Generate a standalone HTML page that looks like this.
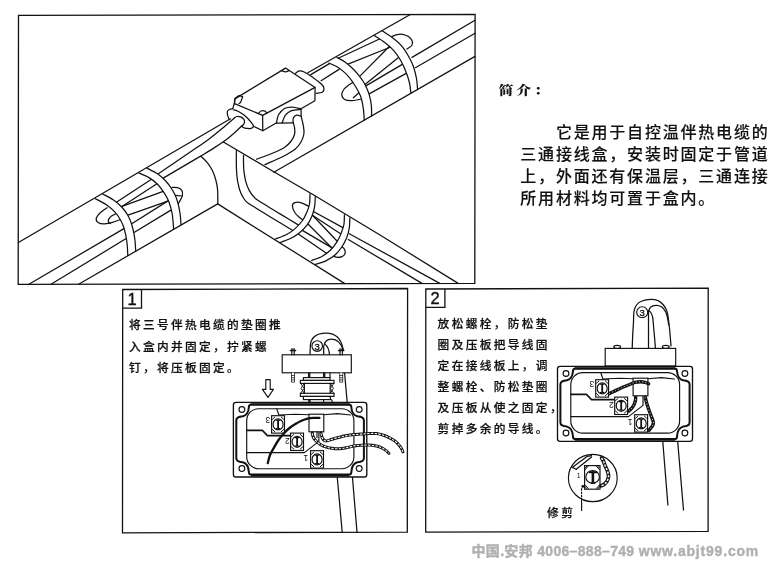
<!DOCTYPE html>
<html lang="zh-CN"><head><meta charset="utf-8"><title>三通接线盒安装说明</title>
<style>
html,body{margin:0;padding:0;background:#fff;}
body{width:779px;height:576px;overflow:hidden;position:relative;filter:grayscale(1);font-family:"Liberation Sans","Noto Sans CJK SC",sans-serif;color:#111;}
svg{position:absolute;left:0;top:0;}
svg path,svg line{fill:none;stroke:#111;stroke-width:1.25;stroke-linecap:round;stroke-linejoin:round;}
svg .k{fill:none;stroke:#111;stroke-width:1.15;}
svg rect.k[fill],svg circle.k[fill],svg ellipse.k[fill],svg path.k[fill]{fill:#fff;}
svg .f{fill:none;stroke:#111;stroke-width:1.3;stroke-linejoin:miter;stroke-linecap:butt;}
svg .g{fill:none;stroke:#111;stroke-width:2;}
svg .g2{fill:none;stroke:#111;stroke-width:1.8;stroke-linecap:butt;}
svg .t{stroke:#111;stroke-width:1.6;stroke-linecap:butt;}
svg .t2{stroke:#111;stroke-width:1.8;stroke-linecap:butt;}
svg .h{stroke:#111;stroke-width:1;}
svg .h2{stroke:#222;stroke-width:.8;fill:#fff;}
svg .s{stroke:#111;stroke-width:1.2;}
svg .w{stroke:#111;stroke-width:2.3;}
svg .w3{stroke:#111;stroke-width:2.2;}
svg .tw_o{stroke:#111;stroke-width:3;}
svg .tw_i{stroke:#fff;stroke-width:1.1;stroke-dasharray:2.4 1.3;stroke-linecap:butt;}
svg text{font-family:"Liberation Sans","Noto Sans CJK SC",sans-serif;fill:#111;}
svg .c3{font-size:9.5px;text-anchor:middle;stroke:#111;stroke-width:.35;}
svg .tn{font-size:8.5px;text-anchor:middle;}
svg .tn2{font-size:7px;text-anchor:middle;}
.tx{position:absolute;white-space:nowrap;margin:0;}
.num{font-size:16.5px;line-height:19px;width:19px;text-align:center;font-weight:400;-webkit-text-stroke:.4px #111;}
.p{font-size:11.7px;line-height:21.4px;letter-spacing:2.35px;font-weight:500;-webkit-text-stroke:.22px #111;}
.intro{font-size:16px;line-height:22.2px;letter-spacing:1.8px;font-weight:500;-webkit-text-stroke:.12px #111;}
svg .ttl{font-family:"Liberation Serif","Noto Serif CJK SC",serif;font-size:15px;font-weight:900;letter-spacing:2.7px;}
.wm{font-size:14px;font-weight:700;color:#b0b0b0;letter-spacing:.32px;-webkit-text-stroke:.4px #b0b0b0;}
</style></head><body>
<svg width="779" height="576" viewBox="0 0 779 576">
<path d="M18.5,15.4 L475.1,14.3 L474.8,283.3 L18.2,284.35 Z" class="f"/>
<g id="tee">
<path d="M200.8,156.2 C201.9,157.3 205.6,160.4 207.5,162.8 C209.4,165.2 211,167.7 212.4,170.6 C213.8,173.5 214.9,176.8 215.8,180 C216.7,183.2 217.3,186 217.6,190 C217.9,194 217.8,201.6 217.8,203.9"/>
<path d="M107.1,207.8 C106,208.6 102.3,210.7 100.5,212.5 C98.7,214.3 96.5,216.9 96.2,218.6 C95.9,220.3 97.1,221.9 98.5,222.8 C99.9,223.7 102.2,224 104.5,223.9 C106.8,223.8 109.9,223.1 112.5,222.4 C115.1,221.7 119,220 120.3,219.5"/>
<path d="M116.7,213.3 C115.8,213.8 112.8,215 111.5,216 C110.2,217 109.1,218.4 108.6,219.4 C108.1,220.4 108.3,221.5 108.6,222.2 C108.9,222.9 109.9,223.4 110.2,223.6"/>
<path d="M172,187.3 C172.9,187.4 175.9,187.1 177.5,187.6 C179.1,188.1 181,189 181.8,190.3 C182.6,191.6 182.7,193.8 182.4,195.5 C182.1,197.2 180.9,199.1 180.2,200.4 C179.5,201.7 178.7,202.9 178.4,203.4"/>
<path d="M175,195.3 L182.4,196"/>
<path d="M352.9,82.5 C352,83.1 349.1,84.8 347.5,86 C345.9,87.2 344.3,88.5 343.4,90 C342.4,91.5 341.6,93.7 341.8,95.3 C342,96.9 342.9,98.6 344.6,99.5 C346.3,100.4 349.2,100.7 352.1,100.6 C355,100.5 360.4,99.3 362,99"/>
<path d="M353.3,97.8 L359.8,92"/>
<path d="M391.6,36.6 C392.5,36.3 395.2,35 397,34.6 C398.8,34.2 400.6,34 402.5,34.3 C404.4,34.6 406.9,35.5 408.5,36.6 C410.1,37.7 411.6,39.5 412.2,41 C412.8,42.5 412.7,44.2 411.8,45.5 C410.9,46.8 407.8,48.4 407,49"/>
<path d="M309.2,206.6 C307.9,206 303.9,203.5 301.5,202.8 C299.1,202.1 296.3,202.1 294.8,202.6 C293.3,203.1 292.4,204.2 292.4,205.8 C292.4,207.5 293.7,210.6 294.8,212.5 C295.9,214.4 297.6,215.7 299,217 C300.4,218.3 302.7,219.8 303.4,220.4"/>
<path d="M341.8,246.6 C342.3,247.1 344.1,248.3 344.6,249.5 C345.1,250.7 345.4,252.4 345,253.6 C344.6,254.8 343.3,256 342,256.6 C340.7,257.2 338.6,257.4 337.3,257.4 C336,257.4 334.6,256.6 334,256.4"/>
<path d="M28.9,284.3 L125.2,227.9"/>
<path d="M51,284.3 L127.4,237.8"/>
<path d="M114.1,203.8 L151.5,179.3"/>
<path d="M119.6,208 L160,181.7"/>
<path d="M119.2,207.3 L165.9,190.3"/>
<path d="M125.9,215.8 L170.7,200.1"/>
<path d="M129.8,225 L170.4,199.4"/>
<path d="M132.8,233.2 L173.4,208.6"/>
<path d="M157.5,174.2 C160.6,172.1 169.9,165.9 176,161.7 C182.1,157.5 189,152.8 194.3,149.2 C199.6,145.6 203.3,143.4 207.8,140 C212.3,136.6 217.1,132.7 221.5,129 C225.9,125.3 232.2,119.8 234.4,118"/>
<path d="M162.8,178.4 L200.2,156.4 C202.3,155.1 208.7,151.3 213,148.6 C217.3,145.9 222.3,142.6 225.8,140 C229.3,137.4 231.4,135.5 234,133.2 C236.6,130.9 240.2,127.4 241.4,126.2"/>
<path d="M310.8,74.6 L329.4,63.6"/>
<path d="M321.1,80.7 L339,69.4"/>
<path d="M335,59.7 L380,38.8"/>
<path d="M346.8,64.6 L390.7,47"/>
<path d="M359.2,76.9 L390,45.8"/>
<path d="M364.3,85.1 L401.9,54.7"/>
<path d="M364.6,86.6 L406.1,62.1"/>
<path d="M367.4,94.9 L409.3,71.6"/>
<path d="M412,57.4 L475,20.2"/>
<path d="M415.4,67.7 L475,33.3"/>
<path d="M293,122 C293.3,123 294.4,125.9 294.6,128 C294.9,130.1 295.1,132.2 294.5,134.5 C293.9,136.8 292.5,139.3 290.8,141.5 C289.1,143.7 287.4,145.6 284.4,147.5 C281.4,149.4 277.6,151.1 273,153 C268.4,154.9 259.3,158.2 256.6,159.2"/>
<path d="M301.1,116.2 C301.5,117.8 302.9,123 303.4,126 C303.9,129 304.3,131.3 303.9,134 C303.5,136.7 302.4,139.5 301,142 C299.6,144.5 298.3,146.6 295.3,149 C292.3,151.4 288.1,153.9 283,156.5 C277.9,159.1 267.9,163.2 264.9,164.6"/>
<path d="M236.4,150.5 C236.4,152.1 236.3,156.8 236.3,160 C236.3,163.2 236.3,166.3 236.5,170 C236.7,173.7 237,178.2 237.8,182.1 C238.5,185.9 239.4,189.8 240.8,193.1 C242.2,196.3 243.8,199.2 246.2,201.6 C248.7,204 251.4,205.2 255.4,207.7 C259.4,210.2 263.6,212.8 270,216.7 C276.4,220.6 290,228.9 294,231.3"/>
<path d="M243.5,155.3 C243.5,156.4 243.4,159.6 243.5,162 C243.6,164.4 243.5,166.8 243.8,170 C244.2,173.2 244.7,177.5 245.6,180.9 C246.5,184.3 247.7,187.7 249.3,190.6 C250.9,193.5 253,196.3 255.4,198.5 C257.8,200.7 259.8,201.4 263.9,204 C268,206.6 274.1,210.3 280,213.9 C285.9,217.5 295.8,223.5 299,225.4"/>
<path d="M311.1,210.3 L345.2,228.9"/>
<path d="M310.1,213.8 L342.8,235.2"/>
<path d="M310.6,213.2 L338.4,242.5"/>
<path d="M306.2,222.3 L333.7,249.8"/>
<path d="M300.2,229.1 L334.2,249.1"/>
<path d="M296.1,232.5 L326.8,253.5"/>
<path d="M349.3,233.7 L439.8,283.4"/>
<path d="M348.3,239.5 L422,283.4"/>
<path d="M95.3,198.7 C97.1,199.7 102.8,202.3 106,204.5 C109.2,206.7 112.1,209.1 114.5,211.7 C116.9,214.2 118.8,217 120.4,219.8 C122,222.6 123.1,224.9 124.2,228.6 C125.3,232.3 126.3,237.5 126.9,242 C127.5,246.5 127.7,253.2 127.8,255.4 L135.7,250.8 C135.5,248.7 135.4,242.5 134.7,238 C134,233.5 132.8,227.8 131.6,224 C130.4,220.2 129.4,218 127.8,215.2 C126.2,212.4 124.3,209.7 121.9,207.2 C119.5,204.7 116.7,202.2 113.5,200 C110.3,197.8 104.5,195 102.7,194 Z" style="fill:#fff;stroke:none"/>
<path d="M138.2,172.8 C140,173.6 145.8,175.7 149,177.6 C152.2,179.5 154.8,181.5 157.3,184 C159.8,186.5 162.1,189.7 164,192.6 C165.9,195.5 167.4,197.9 168.8,201.5 C170.2,205.1 171.4,209.4 172.2,214 C173,218.6 173.4,226.3 173.6,228.8 L181,224.7 C180.8,222.6 180.6,216.4 179.8,212 C179.1,207.6 177.8,202.2 176.5,198.4 C175.2,194.6 173.6,191.9 171.8,189 C170,186.1 167.9,183.2 165.5,180.7 C163.1,178.2 160.6,175.9 157.5,173.8 C154.4,171.7 148.8,169.1 147,168.1 Z" style="fill:#fff;stroke:none"/>
<path d="M329,63.1 C330.3,63.7 334.6,65.4 337,66.8 C339.4,68.2 341.5,69.8 343.6,71.6 C345.7,73.4 347.8,75.6 349.6,77.8 C351.4,80 353.1,82.6 354.6,85 C356.1,87.4 357.5,89.8 358.6,92 C359.7,94.2 360.5,95.6 361.3,98.4 C362.1,101.2 362.9,105.4 363.4,109 C363.9,112.6 364.1,118.3 364.3,120.2 L371.6,116 C371.6,114.2 371.7,108.5 371.3,105 C370.9,101.5 370,97.5 369.2,94.7 C368.4,91.9 367.6,90.2 366.6,88 C365.6,85.8 364.5,83.6 363.1,81.3 C361.7,79 359.8,76.5 358,74.3 C356.2,72.1 354.3,70 352.1,68 C349.9,66 347.5,63.8 345,62 C342.5,60.2 338.2,58.2 336.9,57.5 Z" style="fill:#fff;stroke:none"/>
<path d="M374.2,35.5 C375.9,36.6 381.2,39.8 384.5,42.3 C387.8,44.8 391,47.5 393.8,50.6 C396.5,53.7 398.9,57.4 401,61 C403.1,64.7 404.8,68.8 406.2,72.5 C407.7,76.2 408.7,79.5 409.5,83 C410.3,86.5 410.7,91.6 410.9,93.3 L417.6,89.5 C417.4,87.6 417.1,81.9 416.4,78 C415.7,74.1 414.6,69.9 413.3,66.2 C412,62.6 410.3,59.4 408.4,56 C406.4,52.6 404.2,48.9 401.6,45.9 C399,42.9 395.8,40.3 392.5,37.8 C389.2,35.3 383.8,31.9 382,30.7 Z" style="fill:#fff;stroke:none"/>
<path d="M310,194 C309.9,195.7 310,201 309.5,204 C309,207 308.1,209.2 306.9,212 C305.7,214.8 304.6,217.6 302.5,220.5 C300.4,223.4 296.8,227.2 294,229.6 C291.2,232 288.6,233.4 285.5,235 C282.4,236.6 277.1,238.3 275.4,239 L280,242.4 C281.7,241.8 286.9,240.3 290,238.8 C293.1,237.3 295.8,235.8 298.6,233.6 C301.4,231.3 304.6,228.2 306.8,225.3 C309,222.4 310.7,219 312,215.9 C313.3,212.8 314.1,209.8 314.6,206.6 C315.2,203.4 315.2,198.3 315.3,196.6 Z" style="fill:#fff;stroke:none"/>
<path d="M344.4,214.8 C344.3,216.3 344.5,220.9 344,224 C343.5,227.1 342.4,230.1 341.2,233.1 C340.1,236.1 338.6,239.3 336.8,242.2 C335,245.1 332.8,247.9 330.3,250.3 C327.8,252.7 324.9,254.8 321.8,256.5 C318.7,258.2 313.3,259.8 311.6,260.5 L315.5,264.4 C317.3,263.8 323.1,262.2 326.3,260.6 C329.6,259 332.4,257.3 335,255 C337.6,252.7 339.9,249.9 341.8,247 C343.8,244.1 345.4,241 346.7,237.8 C347.9,234.6 348.8,231.3 349.3,228 C349.8,224.7 349.7,219.7 349.8,218 Z" style="fill:#fff;stroke:none"/>
<path d="M18.4,242.5 L230.5,118.8"/>
<path d="M307.8,72.8 L410.3,14.5"/>
<path d="M78.6,284.2 L217.7,203.9"/>
<path d="M273.8,172.3 L475,56.4"/>
<path d="M223.4,142 L271.2,170.2 L315,195.8 L380,235 L458.2,283.4"/>
<path d="M217.7,203.9 L344.8,283.6"/>
<path d="M95.3,198.7 C97.1,199.7 102.8,202.3 106,204.5 C109.2,206.7 112.1,209.1 114.5,211.7 C116.9,214.2 118.8,217 120.4,219.8 C122,222.6 123.1,224.9 124.2,228.6 C125.3,232.3 126.3,237.5 126.9,242 C127.5,246.5 127.7,253.2 127.8,255.4"/>
<path d="M102.7,194 C104.5,195 110.3,197.8 113.5,200 C116.7,202.2 119.5,204.7 121.9,207.2 C124.3,209.7 126.2,212.4 127.8,215.2 C129.4,218 130.4,220.2 131.6,224 C132.8,227.8 134,233.5 134.7,238 C135.4,242.5 135.5,248.7 135.7,250.8"/>
<path d="M138.2,172.8 C140,173.6 145.8,175.7 149,177.6 C152.2,179.5 154.8,181.5 157.3,184 C159.8,186.5 162.1,189.7 164,192.6 C165.9,195.5 167.4,197.9 168.8,201.5 C170.2,205.1 171.4,209.4 172.2,214 C173,218.6 173.4,226.3 173.6,228.8"/>
<path d="M147,168.1 C148.8,169.1 154.4,171.7 157.5,173.8 C160.6,175.9 163.1,178.2 165.5,180.7 C167.9,183.2 170,186.1 171.8,189 C173.6,191.9 175.2,194.6 176.5,198.4 C177.8,202.2 179.1,207.6 179.8,212 C180.6,216.4 180.8,222.6 181,224.7"/>
<path d="M329,63.1 C330.3,63.7 334.6,65.4 337,66.8 C339.4,68.2 341.5,69.8 343.6,71.6 C345.7,73.4 347.8,75.6 349.6,77.8 C351.4,80 353.1,82.6 354.6,85 C356.1,87.4 357.5,89.8 358.6,92 C359.7,94.2 360.5,95.6 361.3,98.4 C362.1,101.2 362.9,105.4 363.4,109 C363.9,112.6 364.1,118.3 364.3,120.2"/>
<path d="M336.9,57.5 C338.2,58.2 342.5,60.2 345,62 C347.5,63.8 349.9,66 352.1,68 C354.3,70 356.2,72.1 358,74.3 C359.8,76.5 361.7,79 363.1,81.3 C364.5,83.6 365.6,85.8 366.6,88 C367.6,90.2 368.4,91.9 369.2,94.7 C370,97.5 370.9,101.5 371.3,105 C371.7,108.5 371.6,114.2 371.6,116"/>
<path d="M374.2,35.5 C375.9,36.6 381.2,39.8 384.5,42.3 C387.8,44.8 391,47.5 393.8,50.6 C396.5,53.7 398.9,57.4 401,61 C403.1,64.7 404.8,68.8 406.2,72.5 C407.7,76.2 408.7,79.5 409.5,83 C410.3,86.5 410.7,91.6 410.9,93.3"/>
<path d="M382,30.7 C383.8,31.9 389.2,35.3 392.5,37.8 C395.8,40.3 399,42.9 401.6,45.9 C404.2,48.9 406.4,52.6 408.4,56 C410.3,59.4 412,62.6 413.3,66.2 C414.6,69.9 415.7,74.1 416.4,78 C417.1,81.9 417.4,87.6 417.6,89.5"/>
<path d="M310,194 C309.9,195.7 310,201 309.5,204 C309,207 308.1,209.2 306.9,212 C305.7,214.8 304.6,217.6 302.5,220.5 C300.4,223.4 296.8,227.2 294,229.6 C291.2,232 288.6,233.4 285.5,235 C282.4,236.6 277.1,238.3 275.4,239"/>
<path d="M315.3,196.6 C315.2,198.3 315.2,203.4 314.6,206.6 C314.1,209.8 313.3,212.8 312,215.9 C310.7,219 309,222.4 306.8,225.3 C304.6,228.2 301.4,231.3 298.6,233.6 C295.8,235.8 293.1,237.3 290,238.8 C286.9,240.3 281.7,241.8 280,242.4"/>
<path d="M344.4,214.8 C344.3,216.3 344.5,220.9 344,224 C343.5,227.1 342.4,230.1 341.2,233.1 C340.1,236.1 338.6,239.3 336.8,242.2 C335,245.1 332.8,247.9 330.3,250.3 C327.8,252.7 324.9,254.8 321.8,256.5 C318.7,258.2 313.3,259.8 311.6,260.5"/>
<path d="M349.8,218 C349.7,219.7 349.8,224.7 349.3,228 C348.8,231.3 347.9,234.6 346.7,237.8 C345.4,241 343.8,244.1 341.8,247 C339.9,249.9 337.6,252.7 335,255 C332.4,257.3 329.6,259 326.3,260.6 C323.1,262.2 317.3,263.8 315.5,264.4"/>
<path fill="#fff" d="M234.6,99.1 L285.5,68.1 L315.1,87.4 L262.6,115.4 L234.6,103.6 Z"/>
<path fill="#fff" d="M262.6,115.4 L262.8,130.7 L314.9,100.7 L315.1,87.4"/>
<path fill="#fff" d="M234.2,103.8 L235.2,98.3 L239,95.5 L242.6,96.7 L240.6,102.4 L239,103.6"/>
<path d="M258.3,113.6 C258.8,113.2 259.9,111.4 261,111 C262.1,110.6 264,110.8 265,111.2 C266,111.6 266.5,112.9 266.8,113.2"/>
<path d="M281.3,70.6 C282,70.8 284.2,71.8 285.5,71.8 C286.8,71.8 288.6,70.7 289.2,70.5"/>
<path d="M234.2,103.8 L232.8,108.7"/>
<path fill="#fff" d="M232.8,108.7 C232.2,108.8 230.2,109 229.3,109.5 C228.4,110 227.6,110.8 227.3,111.8 C227,112.8 227.4,114.4 227.7,115.7 C228,117 229,118.9 229.3,119.6"/>
<path d="M233.6,109.8 C234.3,110 236.6,110.5 238,111.2 C239.4,111.9 240.9,112.8 242.2,113.8 C243.5,114.7 244.8,115.8 246,116.8 C247.2,117.8 248.2,118.9 249.2,120 C250.2,121.1 251.3,122.4 252,123.4 C252.7,124.4 253.5,125.5 253.5,126.2 C253.5,127 252.6,127.6 252,128 C251.4,128.4 250.9,128.5 250,128.6 C249.1,128.7 247.6,128.5 246.6,128.4 C245.6,128.3 244.6,128.2 243.8,127.8 C242.9,127.4 241.8,126.5 241.4,126.2"/>
<path d="M234.4,118 C234.8,117.8 235.7,116.7 236.7,116.5 C237.7,116.3 239.4,116.5 240.6,116.9 C241.8,117.4 243.1,118.3 243.8,119.2 C244.4,120.1 244.6,121.4 244.5,122.3 C244.4,123.2 243.9,123.9 243.4,124.6 C242.9,125.3 241.7,126 241.4,126.2"/>
<path d="M253.5,126.2 L262.8,130.7"/>
<path d="M295.6,73.3 C296.2,72.9 297.8,71.1 299.3,70.9 C300.8,70.7 302.4,71.1 304.7,72.2 C307,73.3 310.5,75.8 313.2,77.7 C315.9,79.6 319.3,82.1 321.1,83.8 C322.9,85.5 323.7,86.6 323.9,88 C324.1,89.4 323.7,91.4 322.4,92.3 C321.1,93.2 317.3,93.1 316.3,93.3"/>
<path d="M276.4,122.9 C276.8,121.6 277.2,117.2 278.6,114.8 C280,112.4 282.2,109.8 284.5,108.5 C286.8,107.2 289.8,107 292.5,107.1 C295.2,107.2 299.2,108.6 300.6,108.9 L301.1,116 L296.6,115.2 L293.4,117.9 L293,122.9 Z" style="fill:#fff;stroke:none"/>
<path d="M276.4,122.9 C276.8,121.6 277.2,117.2 278.6,114.8 C280,112.4 282.2,109.8 284.5,108.5 C286.8,107.2 289.8,107 292.5,107.1 C295.2,107.2 299.2,108.6 300.6,108.9"/>
<path d="M282.2,122.9 C282.7,121.6 283.8,117.2 285.4,115.2 C287,113.2 289.1,111.7 291.6,110.7 C294.1,109.7 299.1,109.6 300.6,109.4"/>
<path d="M276.4,123.2 L293,122.9"/>
<path d="M293,122.4 C293.1,121.7 292.8,119.1 293.4,117.9 C294,116.7 295.3,115.5 296.6,115.2 C297.9,114.9 300.3,116 301,116.2"/>
<path d="M301.1,109.2 L301.1,116.2"/>
</g>
<g id="panel1">
<path d="M122.7,289.5 L407.6,288.5 L407.3,532.1 L122.5,532.8 Z" class="f"/>
<path d="M122.6,308.2 H141.5 V289.4" class="f"/>
<path d="M344.6,373 L347.2,402.5"/>
<path d="M337.2,476.5 L342.2,532.3"/>
<path d="M352.4,476.5 L357,532.3"/>
<path d="M310,354.8 L310.3,346 Q311,333.3 326,333.1 Q340.5,333 343.2,350"/>
<path d="M323.7,354.8 L323.7,346.5 Q324.8,339 331.5,339.1 Q340,339.4 343.2,350"/>
<path d="M329.3,354.8 Q329.5,348 324.6,343.6"/>
<circle cx="317.2" cy="346" r="5.3" class="k" fill="#fff"/>
<text class="c3" x="317.2" y="349.6">3</text>
<rect x="282.2" y="354.8" width="69.1" height="18" class="k" fill="#fff"/>
<path d="M290.2,350.6 h5.6 M291.3,349.2 h3.4 M291.8,350.6 v4.2 M294.2,350.6 v4.2" class="s"/>
<path d="M291.5,372.8 v9.4 h3 v-9.4 M291.5,375.5 h3 M291.5,377.7 h3 M291.5,379.9 h3" class="h2"/>
<path d="M338.4,350.6 h5.6 M339.5,349.2 h3.4 M340,350.6 v4.2 M342.4,350.6 v4.2" class="s"/>
<path d="M339.7,372.8 v9.4 h3 v-9.4 M339.7,375.5 h3 M339.7,377.7 h3 M339.7,379.9 h3" class="h2"/>
<path d="M308.6,372.8 v4.8 M309.8,372.8 v4.8 M323.6,372.8 v4.8 M324.8,372.8 v4.8 M330,372.8 v4.8" class="k"/>
<rect x="303.4" y="377.6" width="26.6" height="2.8" class="k" fill="#fff"/>
<rect x="300.4" y="380.4" width="33.6" height="3" class="k" fill="#fff"/>
<rect x="300.4" y="393.3" width="33.6" height="3.1" class="k" fill="#fff"/>
<path d="M304.4,383.4 V393.3 M330.2,383.4 V393.3" class="k"/>
<path d="M300.6,383.4 L304.2,388.4 L300.6,393.3 M304.2,383.4 L301,388.4 L304.2,393.3 M333.8,383.4 L330.4,388.4 L333.8,393.3 M330.4,383.4 L333.4,388.4 L330.4,393.3" class="k" style="stroke-width:.9"/>
<rect x="303.4" y="396.4" width="27" height="3.2" class="k" fill="#fff"/>
<path d="M308.8,399.6 V402.4 M310,399.6 V402.4 M323.6,399.6 V402.4 M331.6,399.6 L332.4,402.4" class="k"/>
<path d="M265.8,379.6 H270.2 V389.4 H273.4 L268,397.4 L262.4,389.4 H265.8 Z" class="k" fill="#fff"/>
<g transform="translate(233.4,402.4)">
<rect x="0" y="0" width="133.4" height="74.6" rx="2.6" fill="#fff" class="k" style="stroke-width:1.35"/>
<circle cx="8.5" cy="7.1" r="2.9" class="k"/>
<circle cx="8.5" cy="66.2" r="2.9" class="k"/>
<circle cx="125.8" cy="7.1" r="2.9" class="k"/>
<circle cx="125.8" cy="66.2" r="2.9" class="k"/>
<path d="M17.4,2.3 L116,2.3 Q118,2.3 118,5.3 Q118.5,12.3 124,13.8 Q130.5,14.4 130.5,17.8 L130.5,55.8 Q130.5,59.4 124,59.8 Q118.5,61.3 118,69.1 Q118,72.1 116,72.1 L17.4,72.1 Q15.4,72.1 15.4,69.1 Q14.9,61.3 9.4,59.8 Q2.9,59.4 2.9,55.8 L2.9,17.8 Q2.9,14.4 9.4,13.8 Q14.9,12.3 15.4,5.3 Q15.4,2.3 17.4,2.3 Z" class="g"/>
<path d="M17.4,1.35 H116" class="k" style="stroke-width:1"/>
<path d="M17.4,73.1 L116,73.1" class="g2"/>
<rect x="13.3" y="6.3" width="107.2" height="60" rx="12" class="k"/>
<path d="M13.3,28 L29,28 L34,33.2 L57,33.2" class="k" style="stroke-width:1.6"/>
<path d="M13.3,50.2 L71,50.2 L85.5,39 L85.5,29.4" class="k"/>
<path d="M43.4,6.5 L45.4,12.6 L62,11.9 L75.6,12.4" class="k"/>
<path d="M90.4,12.4 L104,11.2 L117,12.6" class="k"/>
<rect x="75.6" y="11.8" width="14.8" height="17.6" class="k" fill="#fff"/>
<rect x="38.2" y="13.3" width="12.9" height="17.4" class="k" fill="#fff"/>
<ellipse cx="44.7" cy="22" rx="5" ry="5.5" class="k"/>
<path d="M44.7,17.6 v8.8" class="t" style="stroke-width:1.8"/>
<path d="M42.5,17.8 h4.4 M42.5,26.2 h4.4" class="t" style="stroke-width:1.2"/>
<path d="M39,16.9 l2.4,-2.2 M50.3,16.9 l-2.4,-2.2 M39,27.1 l2.4,2.2 M50.3,27.1 l-2.4,2.2" class="h"/>
<text class="tn" transform="translate(34.4,14.9) rotate(180)">3</text>
<rect x="57.2" y="30.7" width="12.9" height="17.4" class="k" fill="#fff"/>
<ellipse cx="63.7" cy="39.4" rx="5" ry="5.5" class="k"/>
<path d="M63.7,35 v8.8" class="t" style="stroke-width:1.8"/>
<path d="M61.5,35.2 h4.4 M61.5,43.6 h4.4" class="t" style="stroke-width:1.2"/>
<path d="M58,34.3 l2.4,-2.2 M69.3,34.3 l-2.4,-2.2 M58,44.5 l2.4,2.2 M69.3,44.5 l-2.4,2.2" class="h"/>
<text class="tn" transform="translate(54,35.5) rotate(180)">2</text>
<rect x="77.2" y="48.3" width="12.9" height="17.4" class="k" fill="#fff"/>
<ellipse cx="83.7" cy="57" rx="5" ry="5.5" class="k"/>
<path d="M83.7,52.6 v8.8" class="t" style="stroke-width:1.8"/>
<path d="M81.5,52.8 h4.4 M81.5,61.2 h4.4" class="t" style="stroke-width:1.2"/>
<path d="M78,51.9 l2.4,-2.2 M89.3,51.9 l-2.4,-2.2 M78,62.1 l2.4,2.2 M89.3,62.1 l-2.4,2.2" class="h"/>
<text class="tn" transform="translate(72.6,52.5) rotate(180)">1</text>
</g>
<path class="w" d="M267.8,463.1 C268.2,461.8 269,457.5 270,455 C271,452.5 272.3,450.6 273.7,448.1 C275.1,445.6 276.8,442.5 278.5,440 C280.2,437.5 282.2,435.3 284,433.3 C285.8,431.3 287.5,429.6 289.5,428 C291.5,426.4 293.8,425 295.8,423.8 C297.8,422.6 299.5,421.7 301.5,420.8 C303.5,419.9 305.6,419.1 307.6,418.6 C309.6,418.1 311.5,418 313.5,417.9 C315.5,417.8 318.4,417.9 319.4,417.9"/>
<path class="k" d="M312.6,431.9 Q313,438 315.9,440.7 M321,431.9 Q321.6,438.5 324.7,440.7 M317,431.9 V437.5"/>
<path class="tw_o" d="M321,433.3 C321.2,434.1 321.7,436.8 322.3,438 C322.9,439.2 323.8,440.3 324.7,440.7 C325.6,441.1 326.8,440.9 328,440.6 C329.2,440.4 330.2,439.8 332.1,439.2 C334,438.6 337,437.8 339.5,437.2 C342,436.6 344.5,436 346.9,435.6 C349.3,435.2 351.6,434.9 354,434.6 C356.4,434.4 359.1,434.3 361.6,434.1 C364.1,433.9 366.5,433.6 369,433.5 C371.5,433.4 374,433.3 376.4,433.6 C378.8,433.9 381.3,434.5 383.5,435.2 C385.7,435.9 387.8,436.9 389.6,437.8 C391.5,438.7 393.1,439.7 394.6,440.8 C396.1,441.9 397.4,443.2 398.5,444.4 C399.6,445.6 400.5,446.8 401.2,448 C401.9,449.2 402.6,451.2 402.9,451.8"/>
<path class="tw_i" d="M321,433.3 C321.2,434.1 321.7,436.8 322.3,438 C322.9,439.2 323.8,440.3 324.7,440.7 C325.6,441.1 326.8,440.9 328,440.6 C329.2,440.4 330.2,439.8 332.1,439.2 C334,438.6 337,437.8 339.5,437.2 C342,436.6 344.5,436 346.9,435.6 C349.3,435.2 351.6,434.9 354,434.6 C356.4,434.4 359.1,434.3 361.6,434.1 C364.1,433.9 366.5,433.6 369,433.5 C371.5,433.4 374,433.3 376.4,433.6 C378.8,433.9 381.3,434.5 383.5,435.2 C385.7,435.9 387.8,436.9 389.6,437.8 C391.5,438.7 393.1,439.7 394.6,440.8 C396.1,441.9 397.4,443.2 398.5,444.4 C399.6,445.6 400.5,446.8 401.2,448 C401.9,449.2 402.6,451.2 402.9,451.8"/>
<path class="tw_o" d="M312.2,433.3 C312.4,434 312.8,436.3 313.4,437.5 C314,438.7 314.8,439.6 315.9,440.7 C317,441.8 318.5,443.2 320,444.2 C321.5,445.2 322.7,445.9 324.7,446.6 C326.7,447.3 329.5,447.9 332,448.3 C334.5,448.7 337,448.9 339.5,448.8 C342,448.7 344.6,448.1 347,447.6 C349.4,447.1 351.8,446.3 354.2,445.9 C356.6,445.5 359,445.3 361.5,445.2 C364,445.1 366.7,445 369,445.1 C371.3,445.2 373.2,445.4 375.2,445.8 C377.2,446.2 379.1,446.7 380.8,447.4 C382.5,448.1 384,449.1 385.4,450.1 C386.8,451.1 388.3,452.8 388.9,453.3"/>
<path class="tw_i" d="M312.2,433.3 C312.4,434 312.8,436.3 313.4,437.5 C314,438.7 314.8,439.6 315.9,440.7 C317,441.8 318.5,443.2 320,444.2 C321.5,445.2 322.7,445.9 324.7,446.6 C326.7,447.3 329.5,447.9 332,448.3 C334.5,448.7 337,448.9 339.5,448.8 C342,448.7 344.6,448.1 347,447.6 C349.4,447.1 351.8,446.3 354.2,445.9 C356.6,445.5 359,445.3 361.5,445.2 C364,445.1 366.7,445 369,445.1 C371.3,445.2 373.2,445.4 375.2,445.8 C377.2,446.2 379.1,446.7 380.8,447.4 C382.5,448.1 384,449.1 385.4,450.1 C386.8,451.1 388.3,452.8 388.9,453.3"/>
</g>
<g id="panel2">
<path d="M425.8,289 L708.2,288.2 L708.1,531.3 L425.7,532.1 Z" class="f"/>
<path d="M425.8,307.4 H444.9 V288.9" class="f"/>
<path d="M662.7,440.5 L667.9,505"/>
<path d="M677.6,440.5 L683.5,510"/>
<path d="M632.2,348.3 C632.3,346.1 632.5,339.4 632.7,335 C632.9,330.6 633.3,325.9 633.5,322 C633.7,318.1 633.5,314.3 634,311.5 C634.5,308.7 635.2,306.8 636.5,305 C637.8,303.2 639.7,301.9 642,301 C644.3,300.1 647.8,299.5 650.5,299.4 C653.2,299.3 655.8,299.7 658,300.6 C660.2,301.5 662,303.1 663.5,305 C665,306.9 666.3,309 667.2,312.2 C668.1,315.4 668.5,320 669,324 C669.5,328 669.9,332.3 670.2,336 C670.5,339.7 670.9,344.3 671,346"/>
<path d="M648.5,348.3 L648.5,312 C648.8,311.2 649.2,308.3 650.5,307.2 C651.8,306.1 654.2,305.4 656,305.3 C657.8,305.2 659.9,305.7 661.5,306.8 C663.1,307.9 664.6,309.9 665.6,311.8 C666.6,313.7 667.1,315.8 667.6,318 C668.1,320.2 668.5,323.8 668.7,325"/>
<path d="M655.4,348.3 C655.3,346.6 654.9,341.6 654.6,338 C654.3,334.4 653.9,330.5 653.6,327 C653.3,323.5 653.1,319.4 652.6,317 C652.1,314.6 651.5,313.6 650.8,312.5 C650.1,311.4 648.9,310.8 648.5,310.5"/>
<circle cx="642.2" cy="312.2" r="5.5" class="k" fill="#fff"/>
<text class="c3" x="642.2" y="315.8">3</text>
<rect x="605.2" y="348.4" width="70.5" height="17.6" class="k" fill="#fff"/>
<ellipse cx="617.2" cy="346.8" rx="3.4" ry="1.5" class="k" fill="#fff"/>
<ellipse cx="665.8" cy="346.8" rx="3.4" ry="1.5" class="k" fill="#fff"/>
<g transform="translate(557.5,366.4)">
<rect x="0" y="0" width="135" height="75" rx="2.6" fill="#fff" class="k" style="stroke-width:1.35"/>
<circle cx="8.5" cy="7.1" r="2.9" class="k"/>
<circle cx="8.5" cy="66.6" r="2.9" class="k"/>
<circle cx="127.4" cy="7.1" r="2.9" class="k"/>
<circle cx="127.4" cy="66.6" r="2.9" class="k"/>
<path d="M17.4,2.3 L117.6,2.3 Q119.6,2.3 119.6,5.3 Q120.1,12.3 125.6,13.8 Q132.1,14.4 132.1,17.8 L132.1,56.2 Q132.1,59.8 125.6,60.2 Q120.1,61.7 119.6,69.5 Q119.6,72.5 117.6,72.5 L17.4,72.5 Q15.4,72.5 15.4,69.5 Q14.9,61.7 9.4,60.2 Q2.9,59.8 2.9,56.2 L2.9,17.8 Q2.9,14.4 9.4,13.8 Q14.9,12.3 15.4,5.3 Q15.4,2.3 17.4,2.3 Z" class="g"/>
<path d="M17.4,1.35 H117.6" class="k" style="stroke-width:1"/>
<path d="M17.4,73.5 L117.6,73.5" class="g2"/>
<rect x="13.3" y="6.3" width="108.8" height="60.4" rx="12" class="k"/>
<path d="M13.3,28 L29,28 L34,33.2 L57,33.2" class="k" style="stroke-width:1.6"/>
<path d="M13.3,50.2 L71,50.2 L85.5,39 L85.5,29.4" class="k"/>
<path d="M43.4,6.5 L45.4,12.6 L62,11.9 L75.6,12.4" class="k"/>
<path d="M90.4,12.4 L104,11.2 L117,12.6" class="k"/>
<rect x="75.6" y="11.8" width="14.8" height="17.6" class="k" fill="#fff"/>
<rect x="38.2" y="13.3" width="12.9" height="17.4" class="k" fill="#fff"/>
<ellipse cx="44.7" cy="22" rx="5" ry="5.5" class="k"/>
<path d="M44.7,17.6 v8.8" class="t" style="stroke-width:1.8"/>
<path d="M42.5,17.8 h4.4 M42.5,26.2 h4.4" class="t" style="stroke-width:1.2"/>
<path d="M39,16.9 l2.4,-2.2 M50.3,16.9 l-2.4,-2.2 M39,27.1 l2.4,2.2 M50.3,27.1 l-2.4,2.2" class="h"/>
<text class="tn" transform="translate(34.4,14.9) rotate(180)">3</text>
<rect x="57.2" y="30.7" width="12.9" height="17.4" class="k" fill="#fff"/>
<ellipse cx="63.7" cy="39.4" rx="5" ry="5.5" class="k"/>
<path d="M63.7,35 v8.8" class="t" style="stroke-width:1.8"/>
<path d="M61.5,35.2 h4.4 M61.5,43.6 h4.4" class="t" style="stroke-width:1.2"/>
<path d="M58,34.3 l2.4,-2.2 M69.3,34.3 l-2.4,-2.2 M58,44.5 l2.4,2.2 M69.3,44.5 l-2.4,2.2" class="h"/>
<text class="tn" transform="translate(54,35.5) rotate(180)">2</text>
<rect x="77.2" y="48.3" width="12.9" height="17.4" class="k" fill="#fff"/>
<ellipse cx="83.7" cy="57" rx="5" ry="5.5" class="k"/>
<path d="M83.7,52.6 v8.8" class="t" style="stroke-width:1.8"/>
<path d="M81.5,52.8 h4.4 M81.5,61.2 h4.4" class="t" style="stroke-width:1.2"/>
<path d="M78,51.9 l2.4,-2.2 M89.3,51.9 l-2.4,-2.2 M78,62.1 l2.4,2.2 M89.3,62.1 l-2.4,2.2" class="h"/>
<text class="tn" transform="translate(72.6,52.5) rotate(180)">1</text>
</g>
<path style="stroke-width:3.4" d="M609.2,393.6 C610.2,393.1 613.4,391.6 615.5,390.6 C617.6,389.6 619.5,388.7 621.6,387.8 C623.8,386.9 626.1,385.9 628.4,385 C630.6,384.1 633,382.9 635.1,382.4 C637.2,381.9 639.1,381.8 640.8,381.8 C642.4,381.8 643.7,382.1 645,382.4 C646.3,382.7 648.1,383.6 648.7,383.8"/>
<path style="stroke:#fff;stroke-width:.8;stroke-dasharray:1.2 2;stroke-linecap:butt" d="M609.2,393.6 C610.2,393.1 613.4,391.6 615.5,390.6 C617.6,389.6 619.5,388.7 621.6,387.8 C623.8,386.9 626.1,385.9 628.4,385 C630.6,384.1 633,382.9 635.1,382.4 C637.2,381.9 639.1,381.8 640.8,381.8 C642.4,381.8 643.7,382.1 645,382.4 C646.3,382.7 648.1,383.6 648.7,383.8"/>
<path style="stroke-width:3.4" d="M628.9,411 C629.4,410.5 630.9,409.2 631.8,408.2 C632.6,407.1 633.4,405.9 634,404.7 C634.6,403.5 635,402.2 635.3,401 C635.6,399.8 635.6,398 635.7,397.4"/>
<path style="stroke:#fff;stroke-width:.8;stroke-dasharray:1.2 2;stroke-linecap:butt" d="M628.9,411 C629.4,410.5 630.9,409.2 631.8,408.2 C632.6,407.1 633.4,405.9 634,404.7 C634.6,403.5 635,402.2 635.3,401 C635.6,399.8 635.6,398 635.7,397.4"/>
<path style="stroke-width:3.4" d="M645.3,397.4 C645.5,398.4 646.2,401.5 646.8,403.5 C647.4,405.5 648,407.2 648.7,409.2 C649.4,411.2 650.2,413.4 651,415.5 C651.8,417.6 652.9,420.1 653.2,421.7 C653.5,423.2 653.3,423.9 653,424.8 C652.7,425.7 652.2,426.4 651.5,427.3 C650.8,428.2 649.3,429.9 648.9,430.4"/>
<path style="stroke:#fff;stroke-width:.8;stroke-dasharray:1.2 2;stroke-linecap:butt" d="M645.3,397.4 C645.5,398.4 646.2,401.5 646.8,403.5 C647.4,405.5 648,407.2 648.7,409.2 C649.4,411.2 650.2,413.4 651,415.5 C651.8,417.6 652.9,420.1 653.2,421.7 C653.5,423.2 653.3,423.9 653,424.8 C652.7,425.7 652.2,426.4 651.5,427.3 C650.8,428.2 649.3,429.9 648.9,430.4"/>
<ellipse cx="592.8" cy="478" rx="24.4" ry="23.7" class="k" fill="#fff"/>
<rect x="584.6" y="465.6" width="15.4" height="23.6" class="k" fill="#fff"/>
<ellipse cx="592.6" cy="476.9" rx="6.8" ry="6.4" class="k"/>
<path d="M592.9,471.6 V483.2" style="stroke-width:2.6;stroke-linecap:butt"/>
<path d="M588.8,472.2 H597.2" style="stroke-width:2;stroke-linecap:butt"/>
<path d="M590.6,483 H595.2" style="stroke-width:1.4;stroke-linecap:butt"/>
<path d="M585.2,469.6 l3,-3.4 M599.4,469.6 l-3,-3.4 M585.2,485 l3,3.4 M599.4,485 l-3,3.4 M585.2,468 l1.6,-1.8 M599.4,468 l-1.6,-1.8 M585.2,486.8 l1.6,1.8 M599.4,486.8 l-1.6,1.8" class="h"/>
<path d="M572.2,467.4 L587.4,456.3 L591.6,455.6"/>
<path d="M576.2,469.3 L591.6,457"/>
<path d="M572.2,467.4 L576.2,469.3"/>
<path style="stroke-width:3.7" d="M601.6,458 C601.9,458.6 603,460.3 603.6,461.6 C604.2,462.9 604.5,464.2 605.1,465.7 C605.7,467.2 606.6,468.8 607.2,470.4 C607.8,472 608.4,473.8 608.5,475.2 C608.6,476.6 608.4,477.8 608,479 C607.6,480.2 607,481.3 606.3,482.2 C605.6,483.1 604.9,483.8 604,484.4 C603.1,485 601.5,485.6 601,485.8"/>
<path style="stroke:#fff;stroke-width:1.5;stroke-dasharray:2.2 1.5;stroke-linecap:butt" d="M601.6,458 C601.9,458.6 603,460.3 603.6,461.6 C604.2,462.9 604.5,464.2 605.1,465.7 C605.7,467.2 606.6,468.8 607.2,470.4 C607.8,472 608.4,473.8 608.5,475.2 C608.6,476.6 608.4,477.8 608,479 C607.6,480.2 607,481.3 606.3,482.2 C605.6,483.1 604.9,483.8 604,484.4 C603.1,485 601.5,485.6 601,485.8"/>
<text class="tn2" x="578.6" y="477.6">1</text>
<circle cx="582.8" cy="486.4" r="1.4" style="fill:#111"/>
<path d="M581.6,488.6 V499" class="k" stroke-dasharray="1.6 1.8"/>
<path d="M581.6,499.6 V510.6" class="k"/>
</g>
<text class="ttl" transform="translate(498.6,94.9) scale(1,.82)">简介：</text>
</svg>
<div class="tx intro" style="left:520.3px;top:121.8px;"><span style="margin-left:35.6px">它是用于自控温伴热电缆的</span><br>三通接线盒，安装时固定于管道<br>上，外面还有保温层，三通连接<br>所用材料均可置于盒内。</div>
<div class="tx num" style="left:122.6px;top:289.6px;">1</div>
<div class="tx num" style="left:425.6px;top:289px;">2</div>
<div class="tx p" style="left:129px;top:314px;letter-spacing:2.3px;">将三号伴热电缆的垫圈推</div>
<div class="tx p" style="left:129px;top:336.3px;letter-spacing:2.3px;">入盒内并固定，拧紧螺</div>
<div class="tx p" style="left:129px;top:357.2px;letter-spacing:2.3px;">钉，将压板固定。</div>
<div class="tx p" style="left:437.6px;top:313px;line-height:21px;">放松螺栓，防松垫<br>圈及压板把导线固<br>定在接线板上，调<br>整螺栓、防松垫圈<br>及压板从使之固定，<br>剪掉多余的导线。</div>
<div class="tx p" style="left:547px;top:502.1px;letter-spacing:2.5px;">修剪</div>
<div class="tx wm" style="left:471.5px;top:540px;">中国.安邦 4006–888–749 <span style="letter-spacing:.8px">www.abjt99.com</span></div>
</body></html>
